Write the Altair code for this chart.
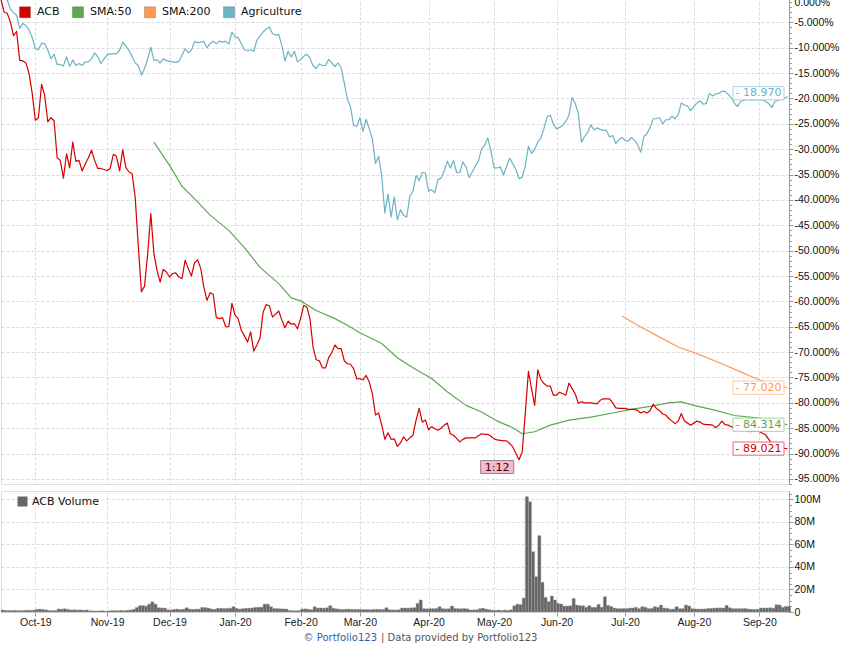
import altair as alt
import pandas as pd

FONT = "DejaVu Sans"
AXFONT = "Liberation Sans"

# ---------------- data (x = trading-day index, y = % change) ----------------
series_names = ["ACB", "SMA:50", "SMA:200", "Agriculture"]
series_colors = ["#d40000", "#5da852", "#ff9a52", "#6cb3c4"]

acb_vals = [
    -0.5, -3.0, -3.2, -4.9, -7.6, -6.8, -12.5, -12.6, -13.0, -15.1,
    -19.0, -24.3, -23.8, -17.2, -19.4, -24.6, -23.8, -24.4, -31.7, -32.2,
    -35.7, -30.9, -33.7, -28.6, -32.4, -32.2, -34.3, -32.9, -31.7, -30.2,
    -32.2, -33.8, -33.8, -34.0, -34.2, -33.8, -31.0, -31.4, -34.3, -30.1,
    -33.6, -34.5, -34.8, -39.5, -49.1, -58.1, -57.0, -50.6, -42.7, -50.6,
    -53.9, -56.2, -53.7, -54.2, -55.2, -54.5, -54.4, -55.2, -55.5, -51.9,
    -53.5, -55.0, -52.4, -51.8, -53.5, -57.2, -59.8, -58.3, -58.6, -63.2,
    -63.4, -63.2, -65.0, -65.0, -60.4, -62.7, -63.4, -65.7, -66.8, -68.0,
    -66.0, -69.8, -68.6, -67.2, -62.1, -60.6, -60.9, -63.1, -62.5, -61.9,
    -63.7, -65.2, -63.9, -64.5, -64.4, -65.4, -63.4, -60.8, -61.1, -63.4,
    -69.0, -71.5, -71.7, -73.1, -73.1, -71.1, -70.1, -68.6, -69.3, -69.3,
    -71.7, -72.3, -72.4, -73.3, -75.3, -75.2, -75.5, -74.6, -75.9, -78.2,
    -82.4, -82.0, -84.4, -87.2, -85.9, -87.2, -87.1, -88.6, -87.9, -86.7,
    -87.5, -86.9, -86.4, -83.4, -81.1, -83.8, -83.4, -85.3, -84.7, -85.1,
    -85.4, -85.0, -84.4, -84.0, -86.1, -86.4, -87.0, -87.7, -87.2, -86.9,
    -86.9, -86.9, -86.9, -86.5, -86.1, -86.2, -86.2, -86.6, -87.1, -87.3,
    -87.4, -87.5, -87.5, -88.0, -88.7, -90.0, -91.2, -89.7, -82.1, -73.8,
    -77.2, -80.5, -73.5, -75.4, -76.2, -76.7, -76.7, -78.5, -78.5, -77.9,
    -78.2, -78.5, -76.1, -77.2, -78.2, -80.1, -79.8, -80.0, -80.0, -80.0,
    -80.1, -80.2, -79.5, -79.2, -79.2, -79.2, -80.0, -81.0, -81.1, -81.1,
    -81.1, -81.3, -81.3, -81.3, -81.5, -82.0, -81.7, -82.0, -81.5, -80.3,
    -81.1, -81.5, -82.2, -82.4, -83.1, -83.6, -84.1, -83.6, -82.1, -83.6,
    -84.0, -84.4, -84.0, -83.6, -83.8, -84.2, -84.3, -84.3, -84.4, -84.9,
    -84.4, -83.6, -84.3, -84.4, -84.7, -84.9, -85.1, -85.3, -85.4, -85.5,
    -85.7, -85.6, -85.5, -85.7, -86.0, -86.3, -87.2, -88.0, -88.4, -88.7,
    -88.9, -89.0, -89.021,
]

agri_vals = [
    -0.3, -0.4, -0.6, -2.4, -3.1, -3.6, -6.2, -5.2, -5.6, -6.5,
    -8.0, -10.2, -10.4, -9.1, -9.2, -10.5, -12.2, -11.3, -13.3, -13.3,
    -13.6, -11.8, -13.7, -12.4, -13.5, -13.1, -13.5, -12.8, -12.8, -12.2,
    -11.0, -11.8, -13.1, -12.2, -11.4, -11.2, -11.2, -11.2, -10.5, -8.9,
    -9.7, -10.5, -11.7, -13.0, -13.5, -15.4, -14.1, -12.2, -9.9, -12.5,
    -12.4, -13.0, -12.2, -12.5, -12.7, -12.8, -12.9, -12.7, -11.5, -10.2,
    -11.0, -10.5, -8.8, -9.0, -8.9, -8.8, -10.0, -9.2, -8.7, -9.2,
    -8.7, -8.9, -8.7, -9.3, -6.9, -7.9, -8.0, -9.2, -10.4, -10.6,
    -10.4, -10.7, -8.5, -7.7, -6.9, -6.3, -5.9, -7.2, -7.5, -7.4,
    -9.6, -12.6, -10.7, -11.8, -10.7, -12.8, -12.3, -11.7, -11.3, -12.0,
    -13.6, -14.1, -13.2, -13.5, -13.5, -12.3, -13.0, -13.7, -13.0, -14.0,
    -17.0, -20.2, -21.7, -25.3, -25.5, -23.8, -26.5, -24.1, -26.0, -28.0,
    -32.8, -31.4, -35.3, -42.6, -38.8, -43.4, -39.4, -43.9, -41.9, -43.0,
    -43.4, -39.3, -38.3, -35.2, -36.2, -34.6, -34.7, -38.3, -38.0, -38.6,
    -36.0, -35.7, -34.3, -32.4, -33.7, -32.2, -34.6, -34.6, -32.5, -33.5,
    -35.6, -34.5, -33.3, -32.3, -29.9, -29.2, -27.8, -30.4, -33.7, -33.7,
    -33.5, -35.1, -33.4, -31.8, -32.9, -34.0, -35.8, -35.5, -33.3, -29.4,
    -30.8, -30.1, -28.6, -27.8, -25.9, -23.6, -23.3, -25.0, -26.0, -25.7,
    -25.3, -24.5, -23.3, -19.8, -21.0, -23.0, -28.6, -27.5, -26.7, -25.2,
    -26.2, -25.8, -26.1, -26.3, -26.3, -27.6, -27.3, -28.9, -28.1, -27.7,
    -28.3, -28.4, -27.7, -28.2, -29.1, -30.6, -27.5, -26.9, -25.7, -24.0,
    -24.0, -23.8, -25.0, -24.2, -24.2, -23.5, -24.0, -23.2, -20.9, -21.3,
    -21.5, -22.4, -21.6, -20.9, -20.5, -21.1, -21.0, -19.0, -19.5, -19.1,
    -19.0, -18.6, -18.6, -19.2, -19.9, -20.9, -21.6, -20.6, -20.4, -20.2,
    -20.3, -20.3, -20.3, -20.3, -20.3, -20.6, -21.0, -21.8, -20.6, -20.4,
    -20.2, -20.0, -19.6,
]

sma50_idx = [49, 54, 58, 63, 67, 73, 78, 83, 89, 93, 96, 101, 107, 111, 115,
             122, 127, 132, 138, 143, 149, 154, 159, 164, 167, 171, 176, 182,
             189, 196, 202, 208, 214, 218, 222, 229, 235, 243, 252]
sma50_vals = [-28.6, -33.2, -37.3, -40.4, -43.0, -46.0, -49.4, -53.3, -56.5,
              -59.3, -59.9, -61.8, -63.4, -64.7, -66.2, -68.3, -71.1, -73.1,
              -75.2, -77.8, -80.5, -81.8, -83.6, -84.9, -86.1, -85.7, -84.4,
              -83.4, -82.8, -82.0, -81.3, -80.7, -80.0, -79.8, -80.5, -81.5,
              -82.5, -83.0, -84.314]

sma200_idx = [199, 204, 210, 217, 223, 231, 237, 243, 252]
sma200_vals = [-62.9, -64.7, -66.7, -69.0, -70.3, -72.3, -73.9, -75.5, -77.02]

volume_m = [
    1.8, 1.5, 1.4, 1.3, 1.5, 1.2, 1.3, 1.4, 1.6, 1.5,
    1.7, 2.4, 2.6, 2.2, 1.9, 1.3, 1.2, 1.4, 2.7, 2.5,
    2.8, 2.3, 1.8, 2.0, 1.7, 1.9, 1.6, 1.8, 1.1, 1.0,
    0.9, 1.0, 1.1, 0.8, 1.0, 1.2, 1.3, 1.1, 1.4, 1.2,
    1.5, 1.8, 2.4, 4.0, 5.6, 5.8, 5.2, 7.0, 9.0, 7.0,
    3.8, 3.6, 3.5, 2.0, 1.8, 2.4, 2.6, 2.2, 2.5, 3.8,
    2.6, 2.3, 2.5, 2.6, 4.1, 3.9, 3.5, 2.6, 2.4, 3.3,
    3.3, 3.1, 3.2, 3.3, 4.7, 3.2, 2.6, 3.0, 3.3, 3.4,
    3.6, 4.1, 4.2, 4.3, 7.0, 7.0, 4.7, 3.1, 3.0, 2.9,
    2.7, 2.6, 1.3, 1.2, 1.1, 1.3, 2.6, 2.8, 2.4, 2.0,
    4.7, 3.5, 3.6, 3.4, 3.8, 5.6, 3.4, 2.8, 2.4, 2.3,
    2.5, 2.6, 2.3, 2.4, 2.4, 2.3, 2.1, 2.2, 2.0, 2.3,
    2.4, 2.3, 2.2, 3.8, 2.0, 1.9, 1.8, 2.0, 3.5, 3.6,
    3.4, 3.7, 3.9, 7.7, 10.7, 3.0, 2.8, 2.9, 3.0, 3.1,
    4.7, 3.0, 2.8, 2.9, 5.3, 3.2, 3.0, 2.9, 3.1, 2.8,
    1.8, 1.9, 2.0, 3.0, 3.4, 2.5, 2.0, 1.6, 1.5, 1.8,
    1.4, 1.7, 1.5, 2.0, 5.6, 7.0, 6.5, 12.4, 102.5, 98.0,
    53.6, 31.4, 67.9, 26.4, 13.0, 9.2, 14.2, 10.7, 7.7, 7.1,
    5.3, 5.3, 5.6, 12.1, 6.2, 5.6, 5.6, 4.2, 5.6, 4.2,
    4.2, 6.8, 4.2, 13.6, 5.9, 5.0, 3.5, 3.0, 3.0, 3.1,
    3.0, 3.5, 3.6, 4.2, 3.0, 4.7, 4.2, 3.0, 3.2, 4.7,
    4.2, 6.2, 3.5, 3.3, 2.5, 2.6, 4.7, 3.0, 3.0, 6.2,
    5.3, 3.0, 2.7, 2.6, 2.6, 2.7, 3.1, 3.3, 3.4, 3.6,
    3.6, 3.5, 5.9, 3.8, 3.0, 3.0, 3.0, 3.0, 3.1, 2.6,
    2.4, 2.3, 2.4, 3.5, 3.6, 3.5, 3.8, 3.4, 6.5, 6.2,
    4.2, 5.0, 5.0,
]

month_idx = [11, 34, 54, 75, 96, 115, 137, 158, 178, 200, 222, 243]
month_lbl = ["Oct-19", "Nov-19", "Dec-19", "Jan-20", "Feb-20", "Mar-20",
             "Apr-20", "May-20", "Jun-20", "Jul-20", "Aug-20", "Sep-20"]

end_names = ["Agriculture", "SMA:200", "SMA:50", "ACB"]
end_vals = [-18.970, -77.020, -84.314, -89.021]
end_text = ["- 18.970", "- 77.020", "- 84.314", "- 89.021"]
end_text_colors = ["#6cb3c4", "#ff9a52", "#5da852", "#d40000"]
end_box_colors = ["#a9d3de", "#ffcaa3", "#a9d2a3", "#e66a6a"]

split_idx = [159]
split_text = ["1:12"]

vol_legend = ["ACB Volume"]
footer_text = ["© Portfolio123", "| Data provided by Portfolio123"]

# ---------------- frames ----------------
frames = []
frames.append(pd.DataFrame({"idx": range(len(agri_vals)), "v": agri_vals, "series": "Agriculture", "o": 0}))
frames.append(pd.DataFrame({"idx": sma200_idx, "v": sma200_vals, "series": "SMA:200", "o": 1}))
frames.append(pd.DataFrame({"idx": sma50_idx, "v": sma50_vals, "series": "SMA:50", "o": 2}))
frames.append(pd.DataFrame({"idx": range(len(acb_vals)), "v": acb_vals, "series": "ACB", "o": 3}))
lines_df = pd.concat(frames, ignore_index=True)

end_df = pd.DataFrame({"name": end_names, "v": end_vals, "t": end_text})
split_df = pd.DataFrame({"idx": split_idx, "t": split_text})
vol_df = pd.DataFrame({"idx": list(range(len(volume_m))), "vol": volume_m, "s": vol_legend[0]})

# ---------------- scales / axes ----------------
W = 788
H_TOP = 487
H_VOL = 121
xscale = alt.Scale(domain=[0, 252.5], nice=False, zero=False)
yscale = alt.Scale(domain=[-96, 0], nice=False, zero=False)
vscale = alt.Scale(domain=[0, 107.5], nice=False, zero=True)

GRID = dict(grid=True, gridColor="#dadada", gridDash=[3, 2], gridWidth=1)
x_lbl_expr = " : ".join(f"datum.value == {i} ? '{l}'" for i, l in zip(month_idx, month_lbl)) + " : ''"

x_axis_top = alt.Axis(values=month_idx, labels=False, ticks=False, domain=False, title=None, **GRID)
x_axis_bot = alt.Axis(values=month_idx, labelExpr=x_lbl_expr, ticks=True, tickSize=4,
                      tickColor="#999999", domain=False, title=None, labelFont=AXFONT,
                      labelFontSize=10.5, labelColor="#222222", labelPadding=1, labelAngle=0,
                      labelFlush=False, labelOverlap=False, **GRID)

y_lbl_expr = "datum.value < 0 ? '-' + format(-datum.value, '.3f') + '%' : format(datum.value, '.3f') + '%'"
y_axis_top = alt.Axis(orient="right", values=list(range(-95, 1, 5)), labelExpr=y_lbl_expr,
                      tickSize=4, tickColor="#999999", domainColor="#999999", labelFont=AXFONT,
                      labelFontSize=10.5, labelColor="#111111", labelPadding=1, title=None,
                      labelFlush=True, labelOverlap=False, **GRID)
y_axis_minor = alt.Axis(orient="right", values=list(range(-96, 1)), labels=False, tickSize=2.5,
                        tickColor="#999999", domain=False, grid=False, title=None)

v_lbl_expr = "datum.value == 0 ? '0' : datum.value + 'M'"
v_axis = alt.Axis(orient="right", values=[0, 20, 40, 60, 80, 100], labelExpr=v_lbl_expr,
                  tickSize=4, tickColor="#999999", domainColor="#999999", labelFont=AXFONT,
                  labelFontSize=10.5, labelColor="#111111", labelPadding=1, title=None,
                  labelOverlap=False, labelFlush=False, **GRID)
v_axis_minor = alt.Axis(orient="right", values=list(range(0, 106, 5)), labels=False, tickSize=2.5,
                        tickColor="#999999", domain=False, grid=False, title=None)

X_TOP = alt.X("idx:Q", scale=xscale, axis=x_axis_top)
Y_TOP = alt.Y("v:Q", scale=yscale, axis=y_axis_top)

# ---------------- top panel ----------------
lines = alt.Chart(lines_df).mark_line(strokeWidth=1.2, strokeJoin="round").encode(
    x=X_TOP,
    y=Y_TOP,
    color=alt.Color("series:N", scale=alt.Scale(domain=series_names, range=series_colors), legend=None),
    order=alt.Order("idx:Q"),
    detail="o:N",
)

legend_sq = alt.Chart(lines_df).transform_filter("false").mark_square(filled=True, opacity=1).encode(
    x=X_TOP,
    y=Y_TOP,
    fill=alt.Fill("series:N", scale=alt.Scale(domain=series_names, range=series_colors),
                  legend=alt.Legend(orient="none", legendX=18, legendY=9, direction="horizontal",
                                    title=None, symbolType="square", symbolSize=121,
                                    symbolStrokeWidth=1, symbolStrokeColor="rgba(0,0,0,0.18)",
                                    labelFont=FONT, labelFontSize=11,
                                    labelColor="#111111", labelOffset=6, columnPadding=10,
                                    symbolOpacity=1)),
)

end_boxes = alt.Chart(end_df).transform_calculate(
    top="datum.v + 1.3", bot="datum.v - 1.3"
).mark_rect(fill="white", strokeWidth=1).encode(
    x=alt.value(732), x2=alt.value(783),
    y=alt.Y("top:Q", scale=yscale, axis=y_axis_top), y2="bot:Q",
    stroke=alt.Stroke("name:N", scale=alt.Scale(domain=end_names, range=end_box_colors), legend=None),
)
end_texts = alt.Chart(end_df).mark_text(font=FONT, fontSize=11, align="center", baseline="middle").encode(
    x=alt.value(757.5),
    y=Y_TOP,
    text="t:N",
    color=alt.Color("name:N", scale=alt.Scale(domain=end_names, range=end_text_colors), legend=None),
)

split_box = alt.Chart(split_df).transform_calculate(
    a="datum.idx - 5.3", b="datum.idx + 5.3"
).mark_rect(fill="#ffb5c9", stroke="#8a8a8a", strokeWidth=1).encode(
    x=alt.X("a:Q", scale=xscale, axis=x_axis_top), x2="b:Q",
    y=alt.value(463.5), y2=alt.value(476.5),
)
split_txt = alt.Chart(split_df).mark_text(font=FONT, fontSize=11, color="#111111", baseline="middle").encode(
    x=alt.X("idx:Q", scale=xscale, axis=x_axis_top), y=alt.value(470.5), text="t:N",
)

minor_top = alt.Chart(pd.DataFrame({"v": [-50.0]})).transform_filter("false").mark_point(opacity=0).encode(
    y=alt.Y("v:Q", scale=yscale, axis=y_axis_minor)
)

top_main = alt.layer(lines, legend_sq, end_boxes, end_texts, split_box, split_txt)
top = alt.layer(top_main, minor_top).resolve_axis(y="independent").properties(width=W, height=H_TOP)

# ---------------- volume panel ----------------
bars = alt.Chart(vol_df).transform_calculate(idx2="datum.idx + 1", zero="0").mark_bar(
    stroke="#a0a0a0", strokeWidth=0.4
).encode(
    x=alt.X("idx:Q", scale=xscale, axis=x_axis_bot),
    x2="idx2:Q",
    y=alt.Y("vol:Q", scale=vscale, axis=v_axis),
    y2="zero:Q",
    color=alt.Color("s:N", scale=alt.Scale(domain=vol_legend, range=["#666666"]),
                    legend=alt.Legend(orient="none", legendX=16, legendY=5, title=None,
                                      symbolType="square", symbolSize=100, symbolStrokeWidth=0,
                                      labelFont=FONT, labelFontSize=11, labelColor="#111111",
                                      labelOffset=4)),
)
minor_vol = alt.Chart(pd.DataFrame({"v": [50.0]})).transform_filter("false").mark_point(opacity=0).encode(
    y=alt.Y("v:Q", scale=vscale, axis=v_axis_minor)
)
foot1 = alt.Chart(pd.DataFrame({"t": footer_text[:1]})).mark_text(
    font=FONT, fontSize=10, align="right", baseline="middle", color="#3b5c9a"
).encode(text="t:N", x=alt.value(376), y=alt.value(146.5))
foot2 = alt.Chart(pd.DataFrame({"t": footer_text[1:]})).mark_text(
    font=FONT, fontSize=10, align="left", baseline="middle", color="#555555"
).encode(text="t:N", x=alt.value(380), y=alt.value(146.5))

vol = alt.layer(alt.layer(bars, foot1, foot2), minor_vol).resolve_axis(y="independent").properties(
    width=W, height=H_VOL)

PAD = {"left": -1, "top": -4, "right": 0, "bottom": 0}
chart = alt.vconcat(top, vol, spacing=5).resolve_scale(color="independent").properties(
    padding=PAD, background="white"
).configure_view(stroke="#aaaaaa", strokeWidth=1).configure(font=FONT)

chart.save("out.html", embed_options={"renderer": "svg", "actions": False})
